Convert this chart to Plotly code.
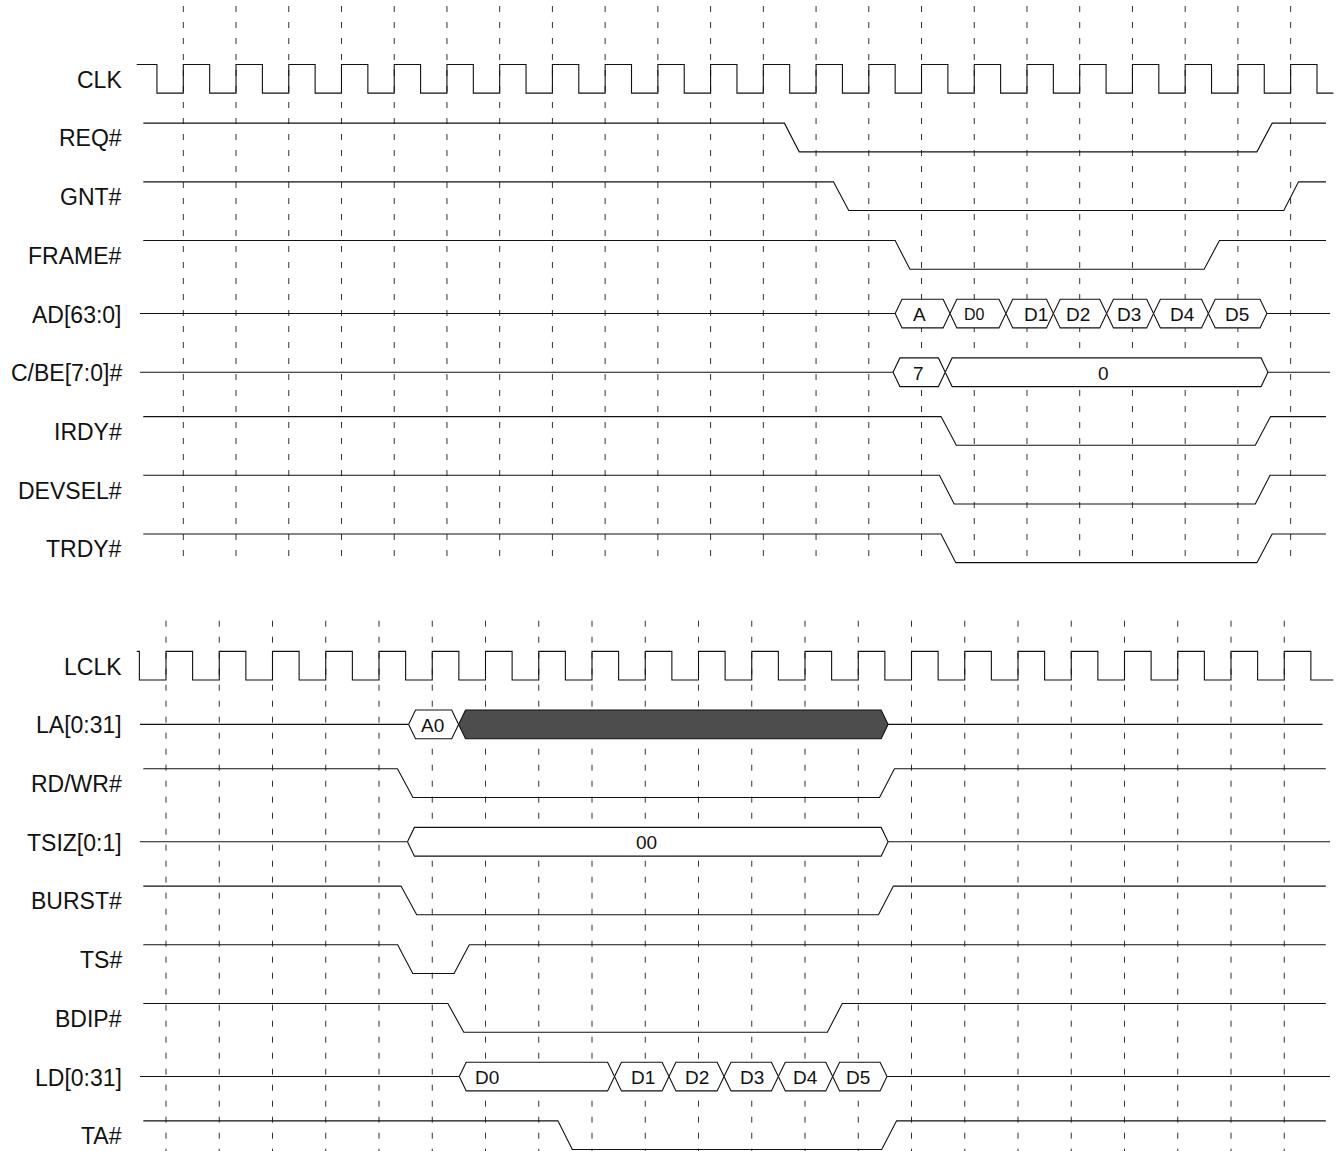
import plotly.graph_objects as go

# Geometry of the page (pixels) used only to set axis ranges
W, H = 1338, 1151
TOP_X0, TOP_STEP = 183.3, 52.73      # first dashed line / clock period, upper diagram
BOT_X0, BOT_STEP = 166.0, 53.25      # same for the lower diagram
ROW0_PX, ROW_STEP = 78.8, 58.69      # centre of row 0 / row pitch
HALF = 0.2445                        # half swing of a signal, in rows
SLOPE = 0.13                         # bus edge slope, in clock periods
INK = "#111111"
FONT = "Liberation Sans, Arial, Helvetica, sans-serif"

# ---- upper diagram (PCI side) ----
TOP_NAMES = ["CLK", "REQ#", "GNT#", "FRAME#", "AD[63:0]", "C/BE[7:0]#", "IRDY#", "DEVSEL#", "TRDY#"]
TOP_ROWS = [0, 1, 2, 3, 4, 5, 6, 7, 8]

CLK_T = [-0.884, -0.5, 0, 0.5, 1, 1.5, 2, 2.5, 3, 3.5, 4, 4.5, 5, 5.5, 6, 6.5, 7, 7.5,
         8, 8.5, 9, 9.5, 10, 10.5, 11, 11.5, 12, 12.5, 13, 13.5, 14, 14.5, 15, 15.5,
         16, 16.5, 17, 17.5, 18, 18.5, 19, 19.5, 20, 20.5, 21, 21.5, 21.81]
CLK_V = [1, 0, 1, 0, 1, 0, 1, 0, 1, 0, 1, 0, 1, 0, 1, 0, 1, 0, 1, 0, 1, 0, 1, 0,
         1, 0, 1, 0, 1, 0, 1, 0, 1, 0, 1, 0, 1, 0, 1, 0, 1, 0, 1, 0, 1, 0, 0]

REQ_T = [-0.759, 11.40, 11.68, 20.36, 20.65, 21.67]
REQ_V = [1, 1, 0, 0, 1, 1]
GNT_T = [-0.759, 12.33, 12.62, 20.87, 21.15, 21.67]
GNT_V = [1, 1, 0, 0, 1, 1]
FRAME_T = [-0.759, 13.50, 13.78, 19.36, 19.65, 21.67]
FRAME_V = [1, 1, 0, 0, 1, 1]
IRDY_T = [-0.759, 14.37, 14.66, 20.33, 20.62, 21.67]
IRDY_V = [1, 1, 0, 0, 1, 1]
DEVSEL_T = [-0.759, 14.34, 14.62, 20.33, 20.61, 21.67]
DEVSEL_V = [1, 1, 0, 0, 1, 1]
TRDY_T = [-0.759, 14.37, 14.65, 20.36, 20.65, 21.67]
TRDY_V = [1, 1, 0, 0, 1, 1]

AD_IDLE = [-0.821, 21.75]
AD_BOUNDS = [13.50, 14.54, 15.60, 16.50, 17.51, 18.40, 19.44, 20.55]
AD_TEXT = ["A", "D0", "D1", "D2", "D3", "D4", "D5"]
AD_TEXT_T = [13.97, 15.01, 16.18, 16.97, 17.94, 18.95, 19.98]
AD_TEXT_SIZE = [19, 16, 19, 19, 19, 19, 19]

CBE_IDLE = [-0.821, 21.75]
CBE_BOUNDS = [13.46, 14.45, 20.57]
CBE_TEXT = ["7", "0"]
CBE_TEXT_T = [13.94, 17.46]

# ---- lower diagram (local bus side) ----
BOT_NAMES = ["LCLK", "LA[0:31]", "RD/WR#", "TSIZ[0:1]", "BURST#", "TS#", "BDIP#", "LD[0:31]", "TA#"]
BOT_ROWS = [10, 11, 12, 13, 14, 15, 16, 17, 18]

LCLK_T = [-0.55, -0.5, 0, 0.5, 1, 1.5, 2, 2.5, 3, 3.5, 4, 4.5, 5, 5.5, 6, 6.5, 7, 7.5,
          8, 8.5, 9, 9.5, 10, 10.5, 11, 11.5, 12, 12.5, 13, 13.5, 14, 14.5, 15, 15.5,
          16, 16.5, 17, 17.5, 18, 18.5, 19, 19.5, 20, 20.5, 21, 21.5, 21.92]
LCLK_V = [1, 0, 1, 0, 1, 0, 1, 0, 1, 0, 1, 0, 1, 0, 1, 0, 1, 0, 1, 0, 1, 0, 1, 0,
          1, 0, 1, 0, 1, 0, 1, 0, 1, 0, 1, 0, 1, 0, 1, 0, 1, 0, 1, 0, 1, 0, 0]

RDWR_T = [-0.426, 4.347, 4.638, 13.40, 13.68, 21.78]
RDWR_V = [1, 1, 0, 0, 1, 1]
BURST_T = [-0.426, 4.413, 4.708, 13.38, 13.66, 21.78]
BURST_V = [1, 1, 0, 0, 1, 1]
TS_T = [-0.426, 4.351, 4.633, 5.410, 5.696, 21.78]
TS_V = [1, 1, 0, 0, 1, 1]
BDIP_T = [-0.426, 5.294, 5.592, 12.42, 12.70, 21.78]
BDIP_V = [1, 1, 0, 0, 1, 1]
TA_T = [-0.426, 7.36, 7.63, 13.44, 13.72, 21.78]
TA_V = [1, 1, 0, 0, 1, 1]

LA_IDLE = [-0.488, 21.72]
LA_BOUNDS = [4.556, 5.495, 13.56]
LA_TEXT = ["A0"]
LA_TEXT_T = [5.01]
LA_FILLS = ["white", "#4d4d4d"]

TSIZ_IDLE = [-0.488, 21.86]
TSIZ_BOUNDS = [4.535, 13.56]
TSIZ_TEXT = ["00"]
TSIZ_TEXT_T = [9.03]

LD_IDLE = [-0.488, 21.86]
LD_BOUNDS = [5.508, 8.423, 9.446, 10.48, 11.50, 12.52, 13.54]
LD_TEXT = ["D0", "D1", "D2", "D3", "D4", "D5"]
LD_TEXT_T = [5.76, 8.95, 9.97, 11.00, 12.01, 13.00]
LD_TEXT_ANCHOR = ["left", "center", "center", "center", "center", "center"]

DASH_T = [0, 1, 2, 3, 4, 5, 6, 7, 8, 9, 10, 11, 12, 13, 14, 15, 16, 17, 18, 19, 20, 21]
TOP_DASH_Y = [-1.240, 8.255]
BOT_DASH_Y = [9.233, 18.30]


def level(row, v):
    return row - HALF if v else row + HALF


def add_wave(fig, row, ts, vs, xaxis, shape="linear"):
    fig.add_trace(go.Scatter(
        x=ts, y=[level(row, v) for v in vs], mode="lines", xaxis=xaxis, yaxis="y",
        line={"color": INK, "width": 1.1, "shape": shape}, hoverinfo="skip",
    ))


def add_bus(fig, row, idle, bounds, xaxis, fills=None):
    for xs in ([idle[0], bounds[0]], [bounds[-1], idle[1]]):
        fig.add_trace(go.Scatter(
            x=xs, y=[row, row], mode="lines", xaxis=xaxis, yaxis="y",
            line={"color": INK, "width": 1.1}, hoverinfo="skip",
        ))
    for i in range(len(bounds) - 1):
        a, b = bounds[i], bounds[i + 1]
        fig.add_trace(go.Scatter(
            x=[a, a + SLOPE, b - SLOPE, b, b - SLOPE, a + SLOPE, a],
            y=[row, row - HALF, row - HALF, row, row + HALF, row + HALF, row],
            mode="lines", fill="toself",
            fillcolor=(fills[i] if fills else "white"),
            xaxis=xaxis, yaxis="y",
            line={"color": INK, "width": 1.1}, hoverinfo="skip",
        ))


def add_dashes(fig, ys, xaxis):
    xs, yy = [], []
    for t in DASH_T:
        xs += [t, t, None]
        yy += [ys[0], ys[1], None]
    fig.add_trace(go.Scatter(
        x=xs, y=yy, mode="lines", xaxis=xaxis, yaxis="y",
        line={"color": "#333333", "width": 1, "dash": "6px,10px"}, hoverinfo="skip",
    ))


fig = go.Figure()
add_dashes(fig, TOP_DASH_Y, "x")
add_dashes(fig, BOT_DASH_Y, "x2")

add_wave(fig, 0, CLK_T, CLK_V, "x", shape="hv")
add_wave(fig, 1, REQ_T, REQ_V, "x")
add_wave(fig, 2, GNT_T, GNT_V, "x")
add_wave(fig, 3, FRAME_T, FRAME_V, "x")
add_bus(fig, 4, AD_IDLE, AD_BOUNDS, "x")
add_bus(fig, 5, CBE_IDLE, CBE_BOUNDS, "x")
add_wave(fig, 6, IRDY_T, IRDY_V, "x")
add_wave(fig, 7, DEVSEL_T, DEVSEL_V, "x")
add_wave(fig, 8, TRDY_T, TRDY_V, "x")

add_wave(fig, 10, LCLK_T, LCLK_V, "x2", shape="hv")
add_bus(fig, 11, LA_IDLE, LA_BOUNDS, "x2", fills=LA_FILLS)
add_wave(fig, 12, RDWR_T, RDWR_V, "x2")
add_bus(fig, 13, TSIZ_IDLE, TSIZ_BOUNDS, "x2")
add_wave(fig, 14, BURST_T, BURST_V, "x2")
add_wave(fig, 15, TS_T, TS_V, "x2")
add_wave(fig, 16, BDIP_T, BDIP_V, "x2")
add_bus(fig, 17, LD_IDLE, LD_BOUNDS, "x2")
add_wave(fig, 18, TA_T, TA_V, "x2")

annotations = []
for name, row in zip(TOP_NAMES + BOT_NAMES, TOP_ROWS + BOT_ROWS):
    annotations.append({
        "text": name, "xref": "paper", "x": 123.8 / W, "xanchor": "right",
        "yref": "y", "y": row, "yanchor": "middle", "yshift": -1, "showarrow": False,
        "font": {"size": 23, "color": "#111111", "family": FONT},
    })


def bus_text(texts, ts, row, xref, sizes=None, anchors=None):
    for i, (txt, t) in enumerate(zip(texts, ts)):
        annotations.append({
            "text": txt, "xref": xref, "x": t,
            "xanchor": anchors[i] if anchors else "center",
            "yref": "y", "y": row, "yanchor": "middle", "yshift": -1, "showarrow": False,
            "font": {"size": sizes[i] if sizes else 19, "color": "#111111", "family": FONT},
        })


bus_text(AD_TEXT, AD_TEXT_T, 4, "x", sizes=AD_TEXT_SIZE)
bus_text(CBE_TEXT, CBE_TEXT_T, 5, "x")
bus_text(LA_TEXT, LA_TEXT_T, 11, "x2")
bus_text(TSIZ_TEXT, TSIZ_TEXT_T, 13, "x2")
bus_text(LD_TEXT, LD_TEXT_T, 17, "x2", anchors=LD_TEXT_ANCHOR)

fig.update_layout(
    width=W,
    height=H,
    margin={"l": 0, "r": 0, "t": 0, "b": 0},
    paper_bgcolor="white",
    plot_bgcolor="white",
    showlegend=False,
    annotations=annotations,
    xaxis={"range": [-TOP_X0 / TOP_STEP, (W - TOP_X0) / TOP_STEP], "visible": False,
           "fixedrange": True, "domain": [0, 1]},
    xaxis2={"range": [-BOT_X0 / BOT_STEP, (W - BOT_X0) / BOT_STEP], "visible": False,
            "fixedrange": True, "overlaying": "x", "anchor": "y"},
    yaxis={"range": [(H - ROW0_PX) / ROW_STEP, -ROW0_PX / ROW_STEP], "visible": False,
           "fixedrange": True, "domain": [0, 1]},
)

fig.write_html(
    "out.html",
    config={"displayModeBar": False},
    post_script="document.body.style.margin='0';document.body.style.overflow='hidden';",
)
